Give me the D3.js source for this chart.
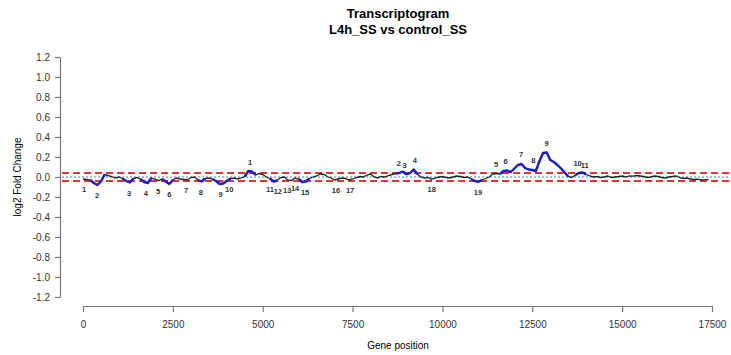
<!DOCTYPE html>
<html>
<head>
<meta charset="utf-8">
<script src="https://cdn.jsdelivr.net/npm/d3@7"></script>
<style>
  body { margin: 0; background: #fff; }
  svg { display: block; font-family: "Liberation Sans Narrow", "Liberation Sans", Arial, sans-serif; }
</style>
</head>
<body>
<svg id="chart" width="731" height="355"></svg>
<script>
// log2 fold change sampled every 100 genes, starting at gene 0
const geneStep = 100;
const lfc = [
  -0.02, -0.025, -0.03, -0.06, -0.08, -0.045, 0.025, 0.015, 0.005, -0.01,
  0.0, -0.015, -0.04, -0.055, -0.015, -0.005, -0.02, -0.05, -0.06, -0.01,
  -0.02, -0.037, -0.02, -0.045, -0.07, -0.03, -0.01, -0.02, -0.025, -0.03,
  -0.005, 0.0, -0.03, -0.045, -0.015, -0.01, -0.02, -0.04, -0.07, -0.065,
  -0.04, -0.015, -0.01, -0.02, -0.01, 0.005, 0.06, 0.055, 0.02, 0.035,
  0.025, 0.0, -0.015, -0.045, -0.035, -0.005, 0.0, -0.03, -0.035, -0.01,
  -0.02, -0.05, -0.045, -0.015, 0.0, 0.01, 0.03, 0.025, 0.005, -0.01,
  -0.03, -0.02, -0.01, -0.015, -0.03, -0.02, -0.005, 0.005, 0.0, 0.02,
  0.03, 0.0, -0.01, 0.005, 0.0, 0.015, 0.025, 0.035, 0.04, 0.055,
  0.025, 0.04, 0.075, 0.03, 0.0, -0.01, -0.005, -0.022, -0.01, 0.0,
  0.005, -0.005, -0.01, 0.0, 0.01, 0.005, -0.005, 0.0, -0.02, -0.04,
  -0.047, -0.03, -0.015, 0.0, 0.03, 0.035, 0.03, 0.06, 0.065, 0.05,
  0.085, 0.12, 0.13, 0.09, 0.075, 0.07, 0.06, 0.16, 0.24, 0.245,
  0.17, 0.15, 0.12, 0.085, 0.045, 0.005, -0.005, 0.02, 0.04, 0.045,
  0.025, 0.01, 0.0, 0.005, -0.005, 0.0, 0.01, -0.005, 0.0, 0.005,
  0.01, 0.0, 0.012, 0.008, 0.015, 0.01, 0.005, -0.005, 0.0, 0.01,
  0.005, -0.005, -0.01, 0.0, 0.005, 0.01, -0.005, -0.015, -0.01, -0.02,
  -0.025, -0.022, -0.03, -0.028, -0.025
];

const threshold = 0.04;

// cluster labels (gene position, label text)
const downGenes = [30, 390, 1280, 1750, 2090, 2400, 2870, 3280, 3830, 4070, 5200, 5420, 5680, 5900, 6180, 7040, 7430, 9700, 10990];
const downText = ["1", "2", "3", "4", "5", "6", "7", "8", "9", "10", "11", "12", "13", "14", "15", "16", "17", "18", "19"];
const upGenes = [4650, 8790, 8950, 9230, 11490, 11760, 12190, 12530, 12900, 13760, 13960];
const upText = ["1", "2", "3", "4", "5", "6", "7", "8", "9", "10", "11"];

const xTicks = [0, 2500, 5000, 7500, 10000, 12500, 15000, 17500];
const yTicks = [1.2, 1.0, 0.8, 0.6, 0.4, 0.2, 0.0, -0.2, -0.4, -0.6, -0.8, -1.0, -1.2];

const svg = d3.select("#chart");

const x = d3.scaleLinear().domain([0, 17500]).range([83, 712]);
const y = d3.scaleLinear().domain([-1.2, 1.2]).range([297, 57]);

const data = lfc.map((v, i) => ({ g: i * geneStep, v: v }));

// title
svg.append("text").attr("x", 398).attr("y", 18).attr("text-anchor", "middle")
  .attr("font-weight", "bold").attr("font-size", 13).text("Transcriptogram");
svg.append("text").attr("x", 398).attr("y", 34).attr("text-anchor", "middle")
  .attr("font-weight", "bold").attr("font-size", 13).text("L4h_SS vs control_SS");

// axes
const yAxis = svg.append("g").attr("transform", "translate(60,0)")
  .call(d3.axisLeft(y).tickValues(yTicks).tickFormat(d3.format(".1f")).tickSize(5).tickSizeOuter(0));
const xAxis = svg.append("g").attr("transform", "translate(0,306)")
  .call(d3.axisBottom(x).tickValues(xTicks).tickFormat(d3.format("d")).tickSize(6).tickSizeOuter(0));

[yAxis, xAxis].forEach(ax => {
  ax.select(".domain").attr("stroke", "#777").attr("stroke-width", 1.2);
  ax.selectAll(".tick line").attr("stroke", "#777").attr("stroke-width", 1.2);
  ax.selectAll(".tick text").attr("fill", "#333").attr("font-size", 10)
    .attr("font-family", "Liberation Sans Narrow, Liberation Sans, Arial, sans-serif");
});
yAxis.selectAll(".tick text").attr("x", -10).attr("dy", "0.35em").text(d => d3.format(".1f")(d).replace("−", "-"));
xAxis.selectAll(".tick text").attr("y", 15);

svg.append("text").attr("x", 398).attr("y", 349).attr("text-anchor", "middle")
  .attr("font-size", 10).attr("font-family", "Liberation Sans, Arial, sans-serif").text("Gene position");
svg.append("text").attr("transform", "translate(21,177) rotate(-90)").attr("text-anchor", "middle")
  .attr("font-size", 10).attr("font-family", "Liberation Sans, Arial, sans-serif").text("log2 Fold Change");

// reference lines
const refG = svg.append("g");
[threshold, -threshold].forEach(t => {
  refG.append("line").attr("x1", 62).attr("x2", 729).attr("y1", y(t)).attr("y2", y(t))
    .attr("stroke", "#e8322e").attr("stroke-width", 2).attr("stroke-dasharray", "7,4");
});
refG.append("line").attr("x1", 62).attr("x2", 729).attr("y1", y(0)).attr("y2", y(0))
  .attr("stroke", "#5a6ee0").attr("stroke-width", 1).attr("stroke-dasharray", "2,2");

// data line
const line = d3.line().x(d => x(d.g)).y(d => y(d.v));
svg.append("path").datum(data).attr("fill", "none").attr("stroke", "#222")
  .attr("stroke-width", 1.3).attr("d", line);

// highlighted segments beyond threshold
const segs = [];
let cur = null;
data.forEach((d, i) => {
  const hot = Math.abs(d.v) >= threshold;
  if (hot) {
    if (!cur) { cur = i > 0 ? [data[i - 1]] : []; segs.push(cur); }
    cur.push(d);
  } else if (cur) {
    cur.push(d);
    cur = null;
  }
});
svg.append("g").selectAll("path").data(segs).enter().append("path")
  .attr("fill", "none").attr("stroke", "#1a1ad6").attr("stroke-width", 2.4)
  .attr("stroke-linejoin", "round").attr("d", line);

// cluster labels
function valueAt(g) {
  const i = Math.max(0, Math.min(data.length - 1, Math.round(g / geneStep)));
  return data[i].v;
}
const lab = svg.append("g").attr("font-size", 7.5).attr("font-weight", "bold")
  .attr("fill", "#333").attr("text-anchor", "middle");
lab.selectAll(".dn").data(downGenes).enter().append("text").attr("class", "dn")
  .attr("x", d => x(d)).attr("y", d => y(valueAt(d)) + 13).text((d, i) => downText[i]);
lab.selectAll(".up").data(upGenes).enter().append("text").attr("class", "up")
  .attr("x", d => x(d)).attr("y", d => y(valueAt(d)) - 7).text((d, i) => upText[i]);
</script>
</body>
</html>
